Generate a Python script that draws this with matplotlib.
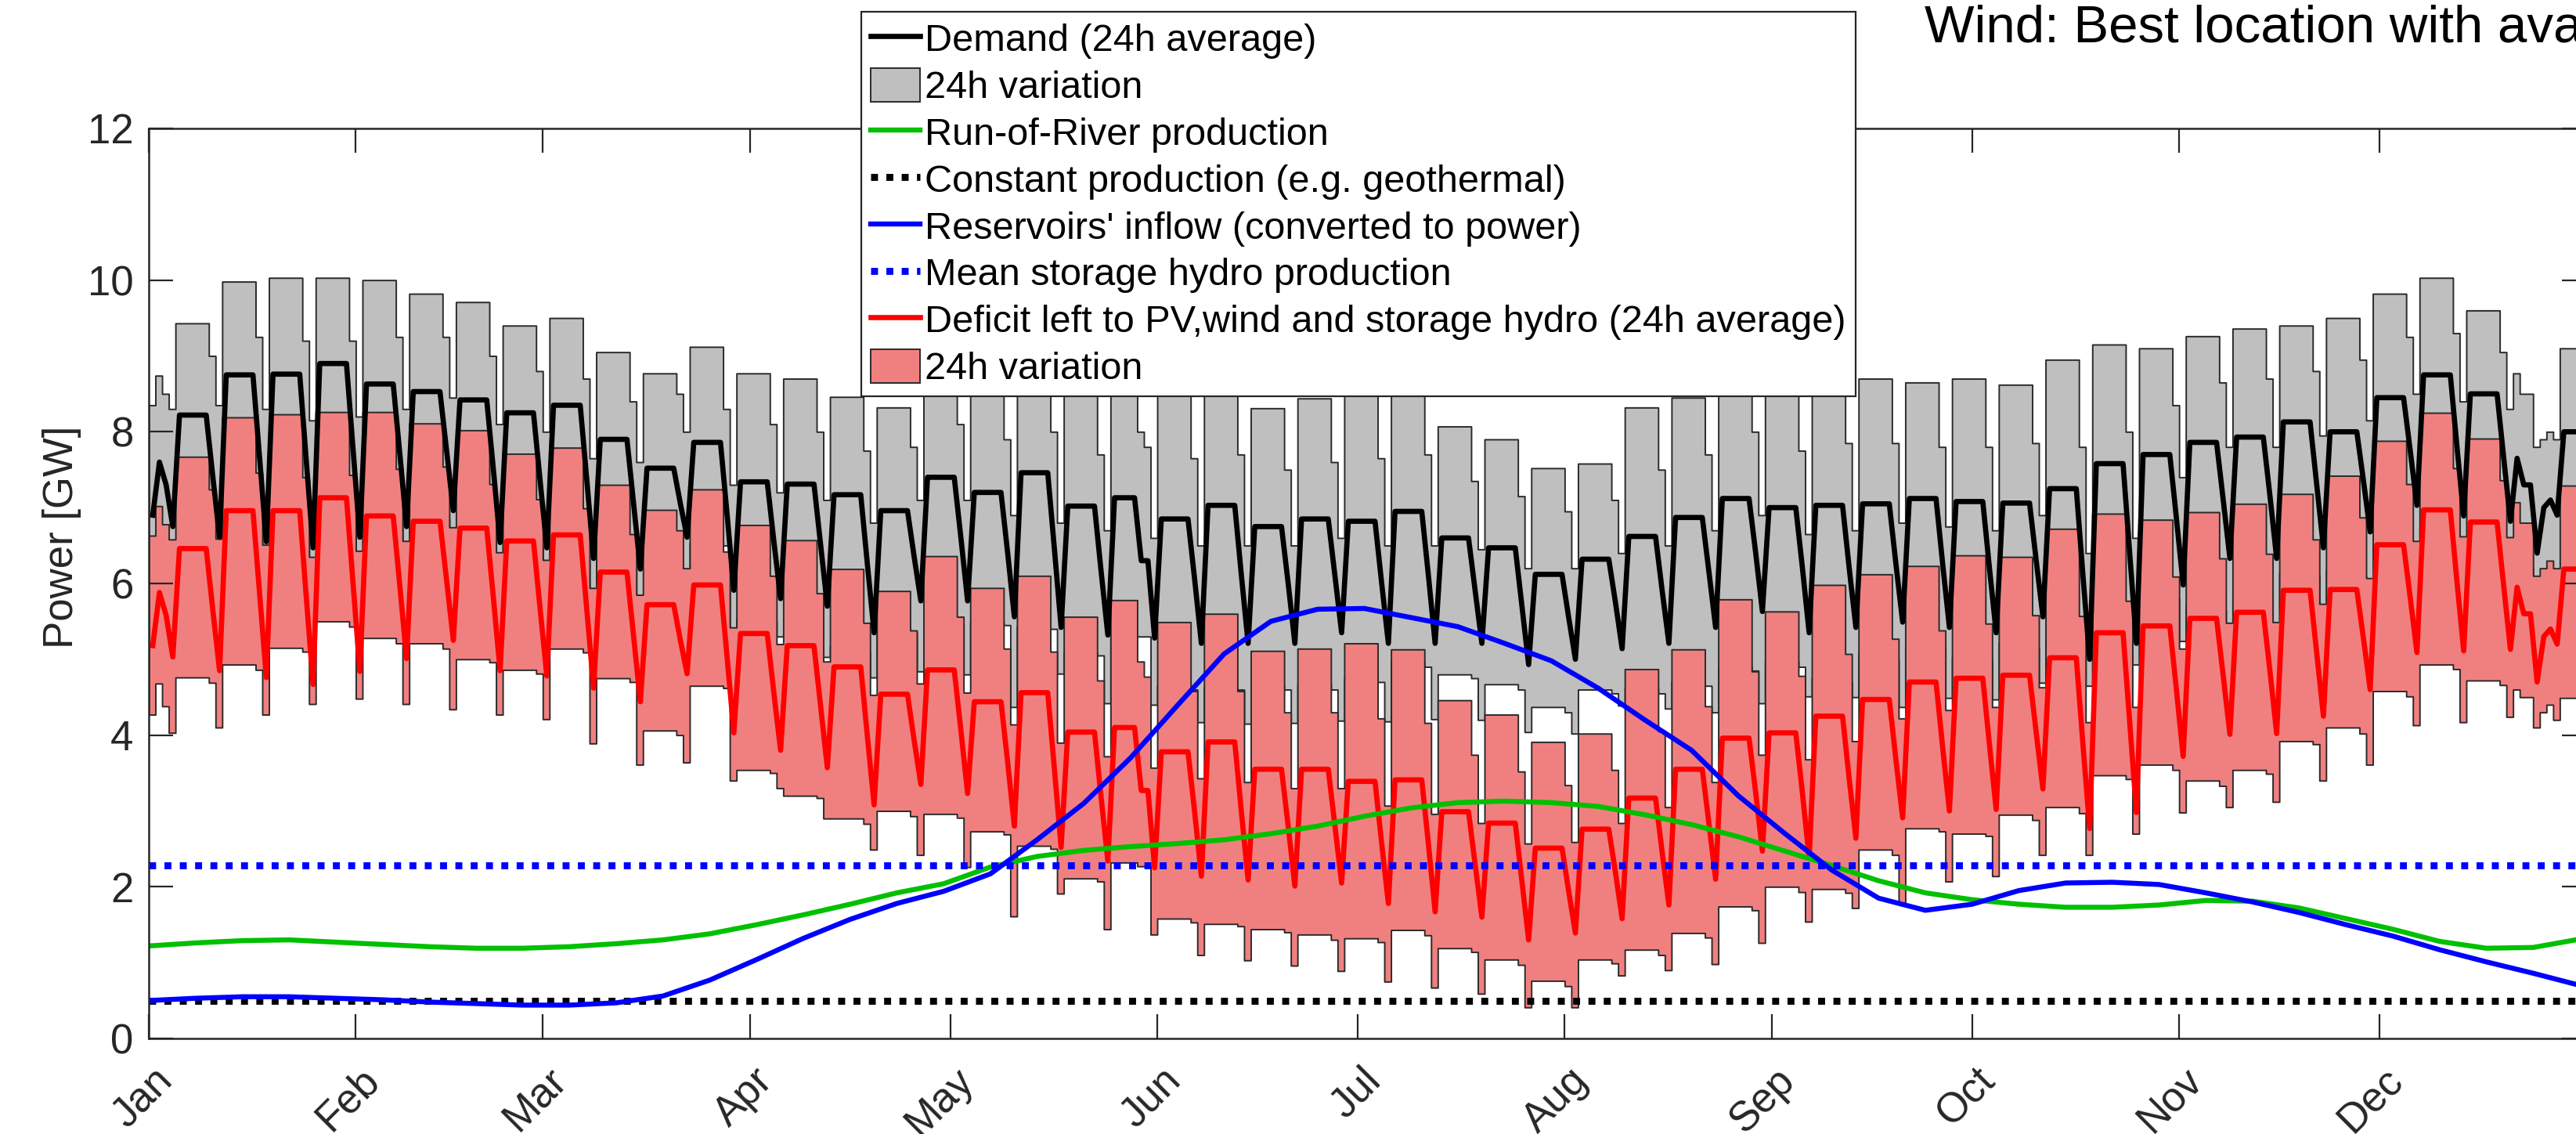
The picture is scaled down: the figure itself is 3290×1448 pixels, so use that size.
import numpy as np
import matplotlib
matplotlib.use('Agg')
import matplotlib.pyplot as plt
import matplotlib.transforms as mtransforms
from matplotlib.lines import Line2D
from matplotlib.patches import Patch

plt.rcParams['font.family'] = ['Liberation Sans', 'DejaVu Sans']

# demand per week [GW]; week 0 = Thu 1 Jan .. Sun 4 Jan, then Mon..Sun weeks
wd_max = [8.74, 9.43, 9.98, 10.03, 10.03, 10.0, 9.82, 9.71, 9.40, 9.50,
          9.05, 8.77, 9.12, 8.77, 8.70, 8.46, 8.32, 8.90, 8.70, 9.00,
          8.54, 8.81, 8.56, 8.72, 8.31, 8.44, 8.64, 8.67, 8.07, 7.90,
          7.52, 7.58, 8.32, 8.45, 8.95, 8.60, 8.76, 8.70, 8.65, 8.70,
          8.62, 8.95, 9.15, 9.10, 9.26, 9.36, 9.40, 9.50, 9.82, 10.03,
          9.60, 8.50, 9.10]
wd_avg = [7.60, 8.22, 8.75, 8.76, 8.90, 8.63, 8.53, 8.42, 8.25, 8.35,
          7.90, 7.52, 7.86, 7.34, 7.31, 7.17, 6.96, 7.40, 7.20, 7.46,
          7.02, 7.13, 6.85, 7.03, 6.75, 6.85, 6.82, 6.95, 6.60, 6.47,
          6.12, 6.32, 6.62, 6.87, 7.12, 7.00, 7.03, 7.05, 7.12, 7.08,
          7.06, 7.25, 7.58, 7.70, 7.86, 7.93, 8.13, 8.00, 8.45, 8.75,
          8.50, 7.30, 8.00]
wd_min = [6.40, 6.52, 6.72, 6.95, 7.27, 7.02, 6.92, 6.69, 6.55, 6.85,
          6.50, 5.86, 6.53, 5.54, 5.33, 5.17, 5.42, 5.50, 5.49, 5.44,
          5.09, 5.35, 4.65, 4.63, 4.64, 4.67, 4.75, 4.97, 4.80, 4.67,
          4.37, 4.60, 4.62, 4.71, 4.90, 4.97, 4.75, 5.07, 5.19, 5.03,
          5.22, 5.28, 5.70, 5.87, 5.72, 5.85, 6.14, 6.18, 6.52, 6.71,
          6.41, 6.20, 6.30]
sat_max = [8.50, 9.00, 9.25, 9.20, 9.20, 9.25, 9.25, 9.00, 8.80, 8.70,
           8.40, 8.50, 8.30, 8.10, 8.00, 7.75, 7.80, 8.10, 7.90, 8.00,
           7.70, 7.80, 7.65, 7.70, 7.50, 7.60, 7.65, 7.70, 7.35, 7.15,
           6.95, 7.10, 7.50, 7.70, 8.00, 7.75, 7.85, 7.85, 7.80, 7.80,
           7.85, 7.80, 8.00, 8.35, 8.65, 8.70, 8.80, 8.95, 9.25, 9.30,
           9.05, 8.00, 8.80]
sat_avg = [7.30, 7.40, 7.65, 7.60, 7.75, 7.70, 7.75, 7.50, 7.35, 7.35,
           7.05, 7.05, 6.90, 6.55, 6.50, 6.25, 6.35, 6.60, 6.40, 6.45,
           6.15, 6.30, 6.05, 6.10, 6.00, 6.10, 6.00, 6.10, 5.90, 5.70,
           5.55, 5.75, 5.90, 6.15, 6.40, 6.20, 6.20, 6.25, 6.25, 6.20,
           6.30, 6.10, 6.40, 6.85, 7.10, 7.15, 7.30, 7.35, 7.75, 7.80,
           7.65, 7.10, 7.50]
sat_min = [6.10, 6.45, 6.65, 6.90, 7.20, 6.95, 6.85, 6.65, 6.50, 6.80,
           6.45, 5.80, 6.50, 5.50, 5.30, 5.10, 5.35, 5.45, 5.45, 5.40,
           5.05, 5.30, 4.60, 4.60, 4.60, 4.60, 4.70, 4.90, 4.75, 4.60,
           4.30, 4.55, 4.55, 4.65, 4.85, 4.90, 4.70, 5.00, 5.15, 5.00,
           5.15, 5.20, 5.65, 5.80, 5.65, 5.80, 6.10, 6.10, 6.45, 6.65,
           6.35, 6.10, 6.25]
sun_max = [8.30, 8.35, 8.30, 8.15, 8.20, 8.30, 8.45, 8.10, 8.00, 7.65,
           7.60, 8.00, 7.30, 7.20, 7.10, 6.80, 7.10, 7.10, 6.90, 6.80,
           6.70, 6.60, 6.50, 6.50, 6.50, 6.60, 6.50, 6.50, 6.45, 6.20,
           6.20, 6.40, 6.50, 6.70, 6.90, 6.65, 6.70, 6.80, 6.75, 6.70,
           6.90, 6.40, 6.60, 7.40, 7.80, 7.80, 7.95, 8.15, 8.50, 8.40,
           8.30, 7.90, 8.40]
sun_avg = [6.75, 6.61, 6.55, 6.47, 6.61, 6.75, 6.96, 6.54, 6.47, 6.33,
           6.19, 6.61, 5.91, 5.80, 5.70, 5.35, 5.77, 5.77, 5.56, 5.42,
           5.32, 5.28, 5.21, 5.21, 5.21, 5.35, 5.21, 5.21, 5.21, 4.93,
           5.00, 5.14, 5.21, 5.42, 5.63, 5.35, 5.42, 5.49, 5.42, 5.35,
           5.56, 5.00, 5.21, 5.98, 6.33, 6.33, 6.47, 6.68, 7.03, 6.89,
           6.82, 6.90, 7.00]
sun_min = [5.75, 5.86, 6.06, 6.21, 6.25, 6.15, 6.05, 5.96, 5.90, 5.60,
           5.36, 5.44, 5.28, 5.30, 5.03, 4.76, 4.84, 4.80, 4.37, 4.81,
           4.42, 4.40, 4.17, 4.15, 4.16, 4.19, 4.18, 4.21, 4.20, 4.04,
           4.02, 4.39, 4.35, 4.30, 4.42, 4.51, 4.50, 4.37, 4.49, 4.47,
           4.69, 4.65, 4.93, 5.24, 5.37, 5.43, 5.62, 5.69, 6.07, 5.95,
           5.93, 5.90, 6.00]

# days that break the weekly pattern (day of year, max, min, avg)
special_day = [0, 148, 354, 357, 358]
special_max = [8.35, 8.00, 8.77, 7.80, 7.90]
special_min = [5.99, 5.30, 6.30, 5.80, 6.00]
special_avg = [6.90, 6.30, 7.65, 6.40, 7.00]

# hydro, sampled every 7 days from 1 Jan
ror = [1.22, 1.26, 1.29, 1.30, 1.27, 1.24, 1.21, 1.19, 1.19, 1.21,
       1.25, 1.30, 1.38, 1.50, 1.63, 1.77, 1.92, 2.04, 2.26, 2.40,
       2.48, 2.53, 2.57, 2.62, 2.70, 2.80, 2.93, 3.04, 3.11, 3.13,
       3.11, 3.06, 2.95, 2.82, 2.66, 2.47, 2.28, 2.08, 1.92, 1.83,
       1.77, 1.73, 1.73, 1.76, 1.82, 1.81, 1.72, 1.58, 1.44, 1.28,
       1.19, 1.20, 1.31]
inflow = [0.50, 0.53, 0.55, 0.55, 0.53, 0.51, 0.48, 0.46, 0.44, 0.44,
          0.47, 0.56, 0.77, 1.04, 1.32, 1.57, 1.78, 1.94, 2.17, 2.62,
          3.10, 3.70, 4.39, 5.07, 5.50, 5.66, 5.67, 5.55, 5.43, 5.21,
          4.98, 4.62, 4.20, 3.80, 3.20, 2.70, 2.22, 1.85, 1.69, 1.77,
          1.95, 2.05, 2.06, 2.03, 1.92, 1.80, 1.66, 1.50, 1.35, 1.17,
          1.01, 0.86, 0.70]
const_prod = 0.5
storage_mean = 2.28

months = ['Jan', 'Feb', 'Mar', 'Apr', 'May', 'Jun',
          'Jul', 'Aug', 'Sep', 'Oct', 'Nov', 'Dec']
month_start = [0, 31, 59, 90, 120, 151, 181, 212, 243, 273, 304, 334]


def expand(wd, sat, sun, week, dow):
    wd, sat, sun = np.array(wd), np.array(sat), np.array(sun)
    return np.where(dow < 5, wd[week], np.where(dow == 5, sat[week], sun[week]))


days = np.arange(365)
week = (days + 3) // 7
dow = (days + 3) % 7   # 0 = Monday

dem_max = expand(wd_max, sat_max, sun_max, week, dow)
dem_min = expand(wd_min, sat_min, sun_min, week, dow)
dem_avg = expand(wd_avg, sat_avg, sun_avg, week, dow)
dem_max[special_day] = special_max
dem_min[special_day] = special_min
dem_avg[special_day] = special_avg

ror_day = np.array(ror)[week]
def_max = dem_max - ror_day - const_prod
def_min = dem_min - ror_day - const_prod
def_avg = dem_avg - ror_day - const_prod

edges = np.arange(366)
mid = days + 0.6
hydro_x = np.arange(len(ror)) * 7


def step(v):
    return np.append(v, v[-1])


fig = plt.figure(figsize=(16.45, 7.24), dpi=200)
ax = fig.add_axes([190 / 3290, 0.08425, 3113.5 / 3290, 0.8025])

ax.fill_between(edges, step(dem_min), step(dem_max), step='post',
                facecolor='#bfbfbf', edgecolor='#2a2a2a', linewidth=0.7)
ax.fill_between(edges, step(def_min), step(def_max), step='post',
                facecolor='#f08080', edgecolor='#2a2a2a', linewidth=0.7)
ax.plot(mid, dem_avg, color='black', lw=2.4)
ax.plot(mid, def_avg, color='red', lw=2.4)
ax.plot(hydro_x, ror, color='#00c000', lw=2.3)
ax.axhline(const_prod, color='black', lw=3.2, dashes=(1, 1.2), dash_capstyle='butt')
ax.plot(hydro_x, inflow, color='blue', lw=2.3)
ax.axhline(storage_mean, color='blue', lw=3.2, dashes=(1, 1.2), dash_capstyle='butt')

ax.set_xlim(0, 365)
ax.set_ylim(0, 12)
ax.set_yticks([0, 2, 4, 6, 8, 10, 12])
ax.set_xticks(month_start)
ax.set_xticklabels(months, rotation=45, ha='right', va='center',
                   rotation_mode='anchor')
ax.tick_params(direction='in', top=True, right=True, length=11, width=0.8,
               color='#262626', labelcolor='#262626', labelsize=19, pad=7)
# push the slanted month names down and to the right
shift = mtransforms.ScaledTranslation(7.9 / 72, -9.5 / 72, fig.dpi_scale_trans)
for lab in ax.get_xticklabels():
    lab.set_transform(lab.get_transform() + shift)
for s in ax.spines.values():
    s.set_color('#262626')
    s.set_linewidth(0.9)
ax.set_ylabel('Power [GW]', fontsize=19, color='#262626')
ax.yaxis.set_label_coords(-0.0276, 0.551)

handles = [
    Line2D([], [], color='black', lw=2.4),
    Patch(facecolor='#bfbfbf', edgecolor='#2a2a2a', linewidth=0.7),
    Line2D([], [], color='#00c000', lw=2.3),
    Line2D([], [], color='black', lw=3.2, dashes=(1, 1.2), dash_capstyle='butt'),
    Line2D([], [], color='blue', lw=2.3),
    Line2D([], [], color='blue', lw=3.2, dashes=(1, 1.2), dash_capstyle='butt'),
    Line2D([], [], color='red', lw=2.4),
    Patch(facecolor='#f08080', edgecolor='#2a2a2a', linewidth=0.7),
]
labels = [
    'Demand (24h average)',
    '24h variation',
    'Run-of-River production',
    'Constant production (e.g. geothermal)',
    "Reservoirs' inflow (converted to power)",
    'Mean storage hydro production',
    'Deficit left to PV,wind and storage hydro (24h average)',
    '24h variation',
]
leg = ax.legend(handles, labels, loc='upper left',
                bbox_to_anchor=(1100 / 3290, 1 - 15 / 1448),
                bbox_transform=fig.transFigure, fontsize=17.5,
                labelspacing=0.245, handlelength=1.3, handleheight=0.97,
                handletextpad=0.12, borderpad=0.25, borderaxespad=0,
                fancybox=False, framealpha=1, edgecolor='#262626')
leg.get_frame().set_linewidth(0.8)

fig.text(2458 / 3290, 1 - 53 / 1448, 'Wind: Best location with available area',
         fontsize=24.2, va='baseline', ha='left')

fig.savefig('out.png', dpi=200)
